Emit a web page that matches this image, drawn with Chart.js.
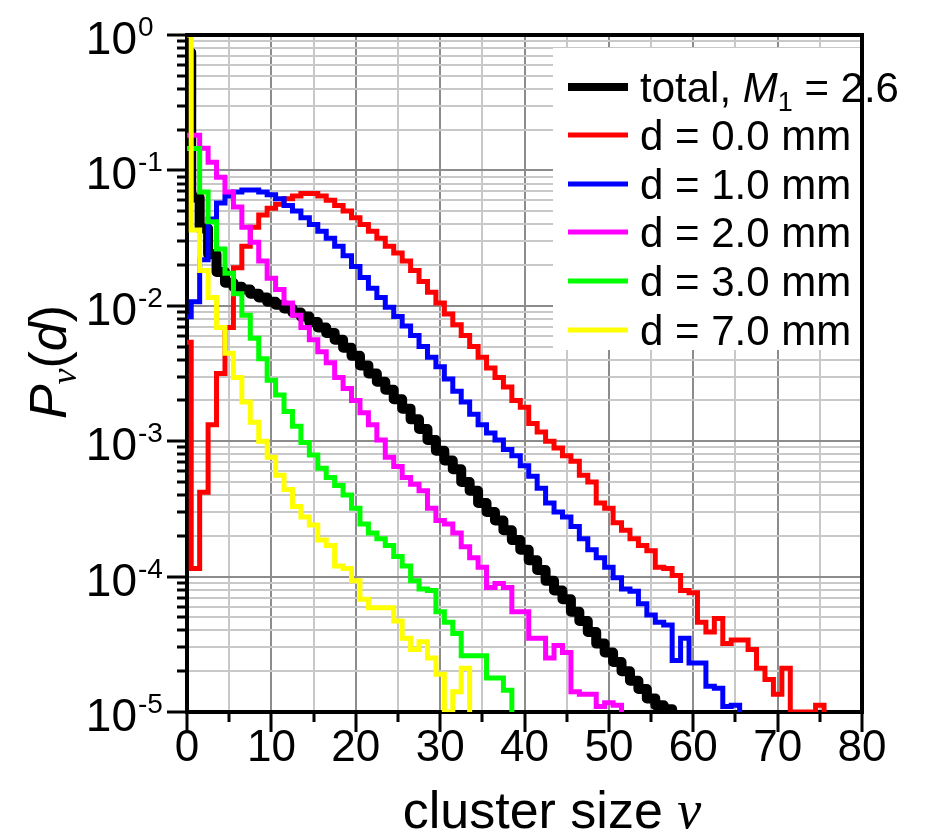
<!DOCTYPE html>
<html>
<head>
<meta charset="utf-8">
<script src="https://cdn.jsdelivr.net/npm/chart.js@4.4.1/dist/chart.umd.min.js"></script>
<style>
  html, body { margin: 0; padding: 0; background: #fff; }
  #wrap { width: 925px; height: 837px; }
</style>
</head>
<body>
<div id="wrap"><canvas id="chart" width="925" height="837"></canvas></div>
<script>
// P_nu(d), index = cluster size nu (0, 1, 2, ...)
const total = [0.741, 0.0631, 0.0372, 0.0240, 0.0178, 0.0148, 0.0138, 0.0132, 0.0123, 0.0115,
  0.0107, 0.0102, 0.00955, 0.00891, 0.00832, 0.00759, 0.00692, 0.00631, 0.00562, 0.00490,
  0.00427, 0.00363, 0.00316, 0.00275, 0.00240, 0.00204, 0.00174, 0.00145, 0.00123, 0.00102,
  8.5e-4, 7.2e-4, 6.2e-4, 5.0e-4, 4.3e-4, 3.5e-4, 3.0e-4, 2.6e-4, 2.2e-4, 1.86e-4,
  1.58e-4, 1.32e-4, 1.12e-4, 9.3e-5, 7.9e-5, 6.8e-5, 5.5e-5, 4.7e-5, 3.9e-5, 3.2e-5,
  2.75e-5, 2.34e-5, 2.0e-5, 1.7e-5, 1.48e-5, 1.26e-5, 1.12e-5, 1.05e-5, 1e-6];
const d00 = [0.00537, 1.15e-4, 4.2e-4, 0.00132, 0.00316, 0.00692, 0.0191, 0.0275, 0.0380, 0.0468,
  0.0525, 0.0562, 0.0617, 0.0646, 0.0676, 0.0676, 0.0646, 0.0603, 0.0550, 0.0501,
  0.0447, 0.0398, 0.0355, 0.0316, 0.0275, 0.0245, 0.0214, 0.0182, 0.0151, 0.0126,
  0.0105, 0.00871, 0.00724, 0.00603, 0.00501, 0.00417, 0.00347, 0.00295, 0.00251, 0.00200,
  0.00178, 0.00135, 0.00117, 0.00100, 8.9e-4, 7.8e-4, 7.1e-4, 5.6e-4, 5.0e-4, 3.5e-4,
  3.2e-4, 2.5e-4, 2.2e-4, 1.9e-4, 1.7e-4, 1.55e-4, 1.17e-4, 1.15e-4, 1.02e-4, 7.9e-5,
  7.6e-5, 4.6e-5, 3.9e-5, 4.9e-5, 3.2e-5, 3.4e-5, 3.4e-5, 2.9e-5, 2.1e-5, 1.74e-5,
  1.35e-5, 2.1e-5, 1e-5, 1e-5, 1e-5, 1.12e-5, 1e-6];
const d10 = [0.0083, 0.0107, 0.0219, 0.0437, 0.0575, 0.0646, 0.0692, 0.0716, 0.0716, 0.0692,
  0.0661, 0.0617, 0.0550, 0.0501, 0.0447, 0.0398, 0.0355, 0.0316, 0.0275, 0.0234,
  0.0195, 0.0162, 0.0135, 0.0115, 0.00977, 0.00832, 0.00708, 0.00603, 0.00501, 0.00417,
  0.00355, 0.00288, 0.00234, 0.00195, 0.00158, 0.00132, 0.00115, 0.00102, 8.7e-4, 7.8e-4,
  6.6e-4, 5.5e-4, 4.5e-4, 3.5e-4, 3.0e-4, 2.75e-4, 2.34e-4, 1.9e-4, 1.58e-4, 1.38e-4,
  1.17e-4, 9.8e-5, 8.1e-5, 7.8e-5, 6.3e-5, 5.2e-5, 4.6e-5, 4.4e-5, 2.4e-5, 3.5e-5,
  2.3e-5, 2.3e-5, 1.55e-5, 1.5e-5, 1.1e-5, 1.12e-5, 1e-6];
const d20 = [0.182, 0.182, 0.146, 0.115, 0.0891, 0.0692, 0.0537, 0.0380, 0.0295, 0.0214,
  0.0160, 0.0132, 0.0105, 0.00851, 0.00692, 0.00562, 0.00457, 0.00380, 0.00295, 0.00245,
  0.00200, 0.00162, 0.00132, 0.00102, 7.6e-4, 6.5e-4, 5.4e-4, 4.8e-4, 4.3e-4, 3.2e-4,
  2.6e-4, 2.45e-4, 2.1e-4, 1.66e-4, 1.38e-4, 1.17e-4, 8.3e-5, 8.9e-5, 8.3e-5, 5.5e-5,
  5.5e-5, 3.5e-5, 3.5e-5, 2.5e-5, 3.1e-5, 2.75e-5, 1.41e-5, 1.35e-5, 1.35e-5, 1.1e-5,
  1.17e-5, 1.12e-5, 1e-6];
const d30 = [0.145, 0.145, 0.0692, 0.0417, 0.0263, 0.0174, 0.0123, 0.00851, 0.00575, 0.00407,
  0.00282, 0.00219, 0.00166, 0.00129, 9.8e-4, 7.9e-4, 6.3e-4, 5.4e-4, 4.7e-4, 4.0e-4,
  3.2e-4, 2.45e-4, 2.1e-4, 1.9e-4, 1.7e-4, 1.41e-4, 1.2e-4, 9.3e-5, 8.1e-5, 7.9e-5,
  5.5e-5, 4.6e-5, 3.8e-5, 2.6e-5, 2.6e-5, 2.6e-5, 1.78e-5, 1.78e-5, 1.45e-5, 1e-6];
const d70 = [1.0, 0.0363, 0.0182, 0.0115, 0.00692, 0.00447, 0.00295, 0.00195, 0.00138, 0.00100,
  7.6e-4, 5.6e-4, 4.4e-4, 3.3e-4, 2.75e-4, 2.4e-4, 1.86e-4, 1.7e-4, 1.2e-4, 1.15e-4,
  9.3e-5, 6.8e-5, 5.9e-5, 5.9e-5, 5.9e-5, 4.7e-5, 3.5e-5, 2.9e-5, 3.3e-5, 2.5e-5,
  1.9e-5, 1e-5, 1.41e-5, 2.1e-5, 1e-6];

const seriesLabels = ['total', 'd = 0.0 mm', 'd = 1.0 mm', 'd = 2.0 mm', 'd = 3.0 mm', 'd = 7.0 mm'];
const seriesColors = ['#000000', '#ff0000', '#0000ff', '#ff00ff', '#00ff00', '#ffff00'];
const xTickLabels = [0, 10, 20, 30, 40, 50, 60, 70, 80];
const yDecades = [1, 1e-1, 1e-2, 1e-3, 1e-4, 1e-5];
const yExponents = ['0', '-1', '-2', '-3', '-4', '-5'];
const yMinorSteps = [2, 3, 4, 5, 6, 7, 8, 9];

const SANS = 'Liberation Sans, Arial, sans-serif';
const SERIF = 'Liberation Serif, Times New Roman, serif';

let yGridVals = [];
for (let d of yDecades) {
  yGridVals.push(d);
  if (d < 1) for (let m of yMinorSteps) yGridVals.push(d * m);
}

function pts(arr) {
  return arr.map((v, i) => ({ x: i, y: v }));
}

const allSeries = [total, d00, d10, d20, d30, d70];
let datasets = [];
for (let i = 0; i < allSeries.length; i++) {
  datasets.push({
    label: seriesLabels[i],
    data: pts(allSeries[i]),
    borderColor: seriesColors[i],
    backgroundColor: 'transparent',
    borderWidth: i === 0 ? 10 : 5,
    borderJoinStyle: i === 0 ? 'round' : 'miter',
    borderCapStyle: 'butt',
    stepped: 'middle',
    pointRadius: 0,
    fill: false,
    order: allSeries.length - i
  });
}

// draws a row of text pieces with different fonts
function drawRuns(ctx, x, y, runs, align) {
  let w = 0;
  for (let r of runs) { ctx.font = r.font; w += ctx.measureText(r.text).width; }
  let cx = align === 'center' ? x - w / 2 : x;
  for (let r of runs) {
    ctx.font = r.font;
    ctx.fillText(r.text, cx, y + (r.dy || 0));
    cx += ctx.measureText(r.text).width;
  }
}

const decor = {
  id: 'decor',
  afterDraw(chart) {
    const ctx = chart.ctx;
    const a = chart.chartArea;
    const xs = chart.scales.x, ys = chart.scales.y;
    ctx.save();
    ctx.strokeStyle = '#000';
    ctx.fillStyle = '#000';

    // tick marks, outward
    ctx.lineWidth = 3;
    for (let v of yGridVals) {
      const py = Math.round(ys.getPixelForValue(v));
      const len = yDecades.includes(v) ? 20 : 10;
      ctx.beginPath(); ctx.moveTo(a.left, py); ctx.lineTo(a.left - len, py); ctx.stroke();
    }
    for (let v = 0; v <= 80; v += 5) {
      const px = Math.round(xs.getPixelForValue(v));
      const len = v % 10 === 0 ? 20 : 10;
      ctx.beginPath(); ctx.moveTo(px, a.bottom); ctx.lineTo(px, a.bottom + len); ctx.stroke();
    }

    // y tick labels 10^n
    ctx.textBaseline = 'alphabetic';
    for (let i = 0; i < yDecades.length; i++) {
      const py = ys.getPixelForValue(yDecades[i]);
      ctx.textAlign = 'right';
      ctx.font = '46px ' + SANS;
      ctx.fillText('10', 137, py + 19);
      ctx.textAlign = 'left';
      ctx.font = '28px ' + SANS;
      ctx.fillText(yExponents[i], 138, py + 1);
    }

    // axis titles
    ctx.textAlign = 'left';
    drawRuns(ctx, 552, 828, [
      { text: 'cluster size ', font: '52px ' + SANS },
      { text: '\u03BD', font: 'italic 54px ' + SERIF }
    ], 'center');

    ctx.save();
    ctx.translate(66, 362);
    ctx.rotate(-Math.PI / 2);
    drawRuns(ctx, 0, 0, [
      { text: 'P', font: 'italic 52px ' + SANS },
      { text: '\u03BD', font: 'italic 36px ' + SERIF, dy: 10 },
      { text: '(', font: '52px ' + SANS },
      { text: 'd', font: 'italic 52px ' + SANS },
      { text: ')', font: '52px ' + SANS }
    ], 'center');
    ctx.restore();

    // legend box
    ctx.fillStyle = '#fff';
    ctx.fillRect(553, 48, a.right - 553, 302);
    const rowY = [87, 135, 184, 232, 281, 330];
    for (let i = 0; i < seriesLabels.length; i++) {
      ctx.strokeStyle = seriesColors[i];
      ctx.lineWidth = i === 0 ? 8 : 5;
      ctx.beginPath(); ctx.moveTo(568, rowY[i]); ctx.lineTo(628, rowY[i]); ctx.stroke();
      ctx.fillStyle = '#000';
      if (i === 0) {
        drawRuns(ctx, 640, rowY[i] + 15, [
          { text: 'total, ', font: '42px ' + SANS },
          { text: 'M', font: 'italic 42px ' + SANS },
          { text: '1', font: '27px ' + SANS, dy: 9 },
          { text: ' = 2.6', font: '42px ' + SANS }
        ], 'left');
      } else {
        ctx.font = '42px ' + SANS;
        ctx.fillText(seriesLabels[i], 640, rowY[i] + 15);
      }
    }

    // top and right frame
    ctx.strokeStyle = '#000';
    ctx.lineWidth = 4;
    ctx.beginPath();
    ctx.moveTo(a.left - 2, a.top);
    ctx.lineTo(a.right, a.top);
    ctx.lineTo(a.right, a.bottom + 2);
    ctx.stroke();
    ctx.restore();
  }
};

const ctx = document.getElementById('chart').getContext('2d');
new Chart(ctx, {
  type: 'line',
  data: { datasets: datasets },
  options: {
    responsive: false,
    animation: false,
    devicePixelRatio: 1,
    layout: { padding: { top: 35, right: 63, left: 0, bottom: 0 } },
    plugins: { legend: { display: false }, tooltip: { enabled: false } },
    scales: {
      x: {
        type: 'linear', min: 0, max: 80,
        ticks: {
          stepSize: 5, autoSkip: false, maxRotation: 0, color: '#000', padding: 10,
          font: { family: SANS, size: 44 },
          callback: v => xTickLabels.includes(v) ? String(v) : ''
        },
        grid: {
          drawTicks: false, lineWidth: 2,
          color: c => (c.tick && c.tick.value % 10 === 0) ? '#8c8c8c' : '#c8c8c8'
        },
        border: { color: '#000', width: 4 },
        afterFit: s => { s.height = 125; }
      },
      y: {
        type: 'logarithmic', min: 1e-5, max: 1,
        ticks: { display: false },
        afterBuildTicks: s => { s.ticks = yGridVals.map(v => ({ value: v })); },
        grid: {
          drawTicks: false, lineWidth: 2,
          color: c => (c.tick && yDecades.includes(c.tick.value)) ? '#8c8c8c' : '#c8c8c8'
        },
        border: { color: '#000', width: 4 },
        afterFit: s => { s.width = 187; }
      }
    }
  },
  plugins: [decor]
});
</script>
</body>
</html>
